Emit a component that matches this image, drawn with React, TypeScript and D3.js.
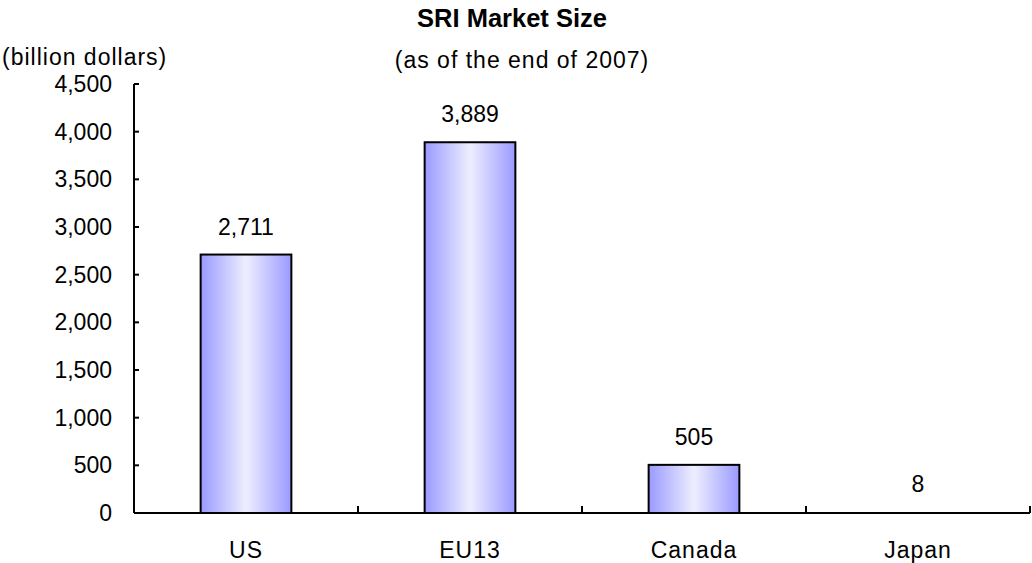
import React from "react";
import * as d3 from "d3";

const categories = ["US", "EU13", "Canada", "Japan"];
const values = [2711, 3889, 505, 8];
const yTicks = [0, 500, 1000, 1500, 2000, 2500, 3000, 3500, 4000, 4500];

const W = 1032, H = 563;
const m = { left: 134, right: 2, top: 84, bottom: 50 };
const FONT = "'Liberation Sans', Arial, sans-serif";

export default function App() {
  const x = d3.scaleBand<string>().domain(categories).range([m.left, W - m.right]).paddingInner(0).paddingOuter(0);
  const y = d3.scaleLinear().domain([0, 4500]).range([H - m.bottom, m.top]);
  const bw = x.bandwidth() * 0.405;
  const fmt = d3.format(",");
  const y0 = y(0);
  return (
    <svg width={W} height={H} style={{ position: "absolute", left: 0, top: 0, background: "#fff" }} fontFamily={FONT}>
      <defs>
        <linearGradient id="barGrad" x1="0" x2="1" y1="0" y2="0">
          <stop offset="0" stopColor="#9a9aff" />
          <stop offset="0.5" stopColor="#eeeeff" />
          <stop offset="1" stopColor="#9a9aff" />
        </linearGradient>
      </defs>
      <text x={512} y={27} textAnchor="middle" fontSize={25.5} fontWeight="bold">SRI Market Size</text>
      <text x={522} y={68} textAnchor="middle" fontSize={23} letterSpacing={1}>(as of the end of 2007)</text>
      <text x={2} y={65} fontSize={23} letterSpacing={1}>(billion dollars)</text>
      {categories.map((c, i) => {
        const cx = x(c)! + x.bandwidth() / 2;
        const top = y(values[i]);
        return (
          <g key={c}>
            {values[i] > 50 && (
              <rect x={cx - bw / 2} y={top} width={bw} height={y0 - top} fill="url(#barGrad)" stroke="#000" strokeWidth={2} />
            )}
            <text x={cx} y={top - 20} textAnchor="middle" fontSize={23}>{fmt(values[i])}</text>
            <text x={cx} y={y0 + 45} textAnchor="middle" fontSize={23} letterSpacing={1}>{c}</text>
          </g>
        );
      })}
      <line x1={m.left} x2={m.left} y1={y(4500)} y2={y0} stroke="#000" strokeWidth={2} />
      <line x1={m.left} x2={W - m.right} y1={y0} y2={y0} stroke="#000" strokeWidth={2} />
      {yTicks.map(t => (
        <g key={t}>
          <line x1={m.left} x2={m.left + 5} y1={y(t)} y2={y(t)} stroke="#000" strokeWidth={2} />
          <text x={m.left - 22} y={y(t) + 8} textAnchor="end" fontSize={23}>{fmt(t)}</text>
        </g>
      ))}
      {[...categories.map(c => x(c)!), W - m.right].map((px, i) => (
        <line key={i} x1={px} x2={px} y1={y0} y2={y0 - 7} stroke="#000" strokeWidth={2} />
      ))}
    </svg>
  );
}
